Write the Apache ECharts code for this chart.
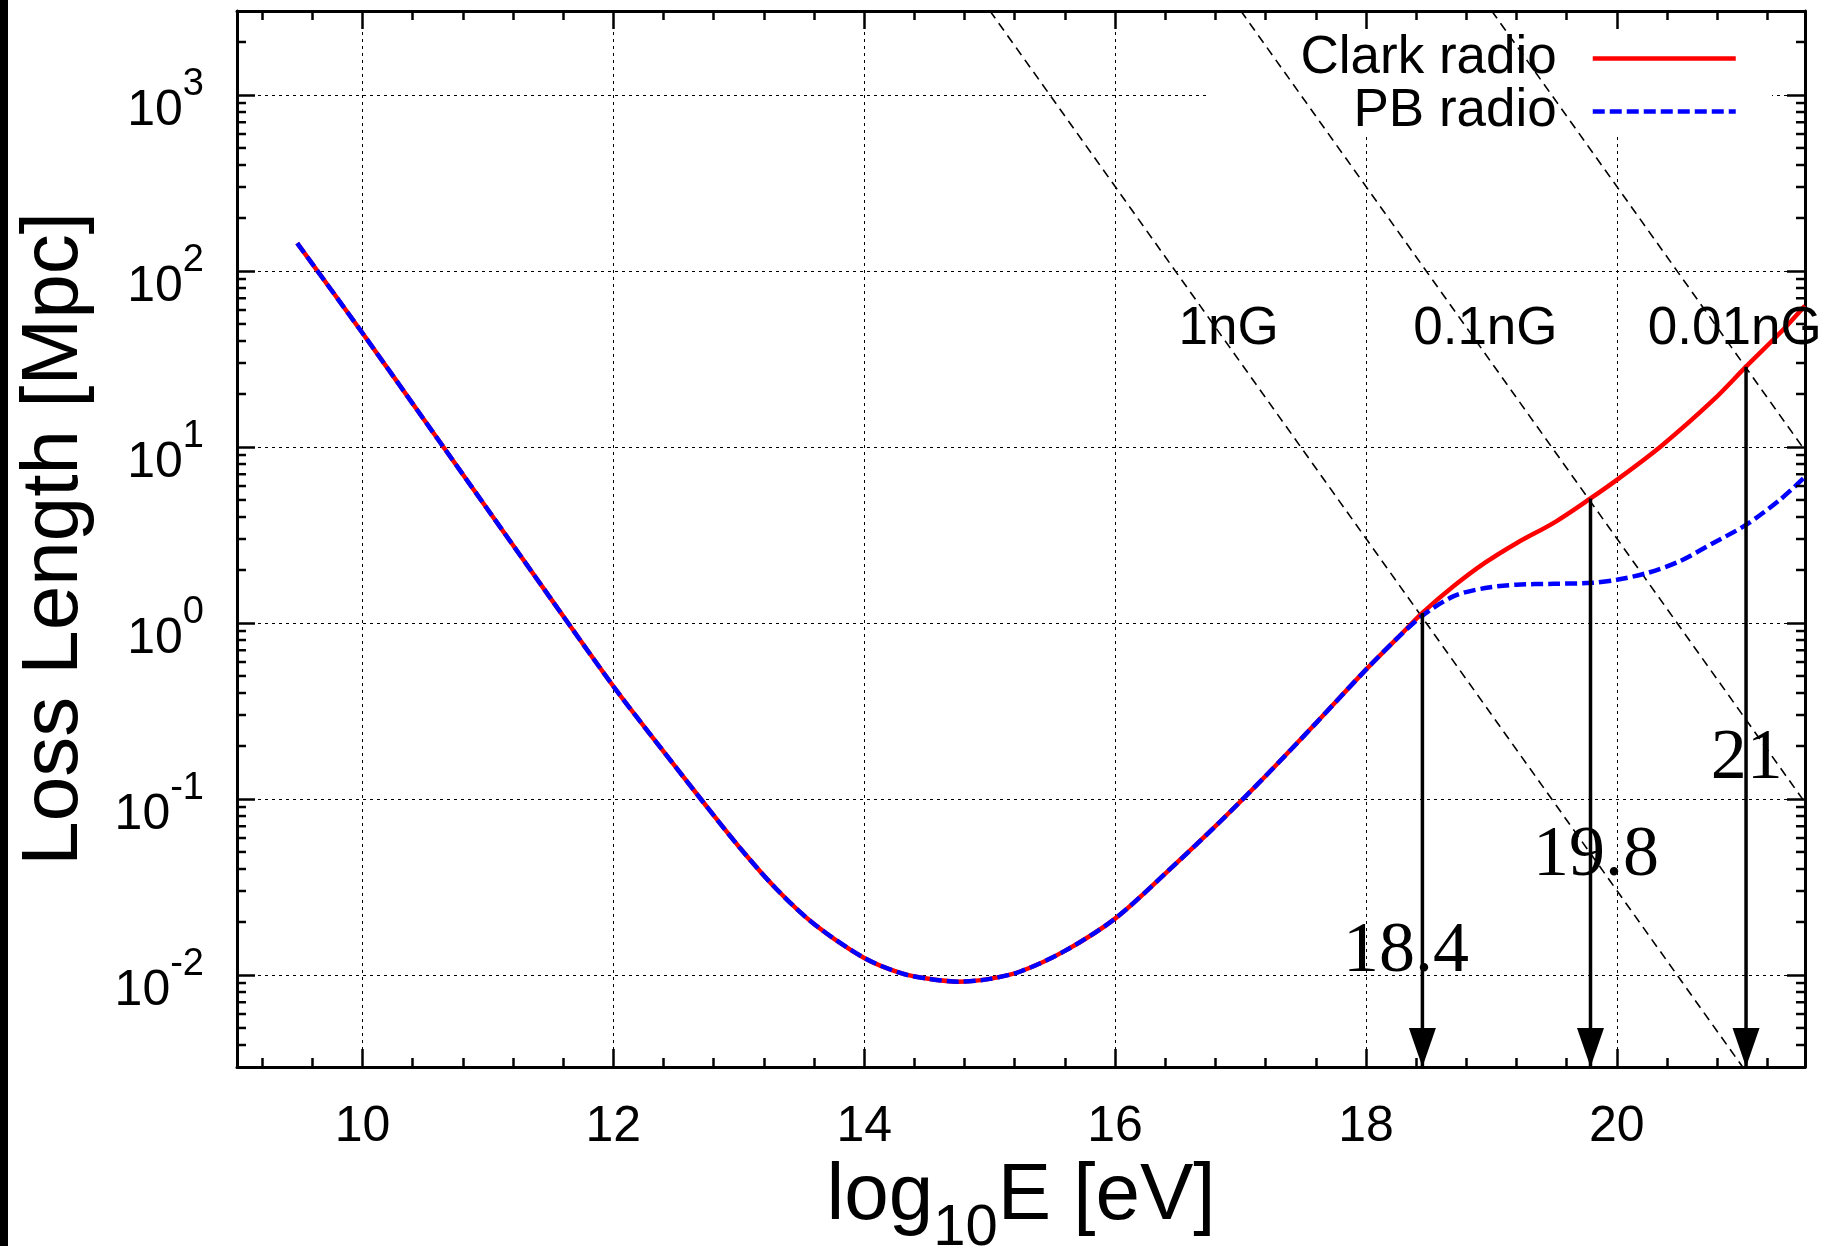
<!DOCTYPE html>
<html><head><meta charset="utf-8">
<script src="https://cdn.jsdelivr.net/npm/echarts@6/dist/echarts.min.js"></script>
<style>html,body{margin:0;padding:0;background:#fff}#c{width:1827px;height:1246px}</style>
</head><body><div id="c"></div>
<script>
const SANS = "'Liberation Sans', Arial, Helvetica, sans-serif";
const SERIF = "'Liberation Serif', 'Times New Roman', serif";
const X_MIN = 9, X_MAX = 21.5, Y_MIN = 0.003, Y_MAX = 3000;

// tick values
const xMajorTicks = [10, 12, 14, 16, 18, 20];
const xMinorTicks = [];
for (let k = 23; k <= 53; k++) xMinorTicks.push(+(k * 0.4).toFixed(1));
const yMinorTicks = [];
for (let e = -3; e <= 3; e++) for (let m = 2; m <= 9; m++) {
  const v = m * Math.pow(10, e);
  if (v > Y_MIN && v < Y_MAX) yMinorTicks.push(v);
}

// common part of both curves (log10 E [eV], loss length [Mpc])
const commonE = [9.48, 10.0, 10.5, 11.0, 11.5, 12.0, 12.35, 12.7, 13.0, 13.3, 13.6, 14.0, 14.3, 14.5, 14.75, 15.0, 15.25, 15.6, 16.0, 16.4, 16.8, 17.2, 17.6, 18.0, 18.25];
const commonL = [144, 44.4, 14.0, 4.40, 1.38, 0.437, 0.207, 0.0993, 0.0537, 0.0308, 0.0195, 0.0125, 0.0102, 0.00955, 0.00916, 0.0095, 0.0105, 0.0137, 0.0209, 0.0377, 0.070, 0.135, 0.269, 0.543, 0.82];
// Clark radio branch
const clarkE = [18.45, 18.7, 18.95, 19.2, 19.5, 19.79, 20.0, 20.35, 20.77, 21.03, 21.3, 21.5];
const clarkL = [1.14, 1.62, 2.2, 2.84, 3.72, 5.10, 6.5, 10.07, 18.5, 28.6, 44.4, 63.5];
// PB radio branch
const pbE = [18.45, 18.7, 18.95, 19.2, 19.5, 19.8, 20.0, 20.25, 20.5, 20.77, 21.03, 21.3, 21.5];
const pbL = [1.10, 1.42, 1.58, 1.65, 1.67, 1.69, 1.76, 1.93, 2.24, 2.85, 3.61, 5.01, 6.76];

// magnetic-field lines (end points)
const fieldNames = ['1nG', '0.1nG', '0.01nG'];
const fieldLineE = [[15.003, 21.003], [17.003, 21.5], [19.003, 21.5]];
const fieldLineL = [[3000, 0.003], [3000, 0.0955], [3000, 9.55]];
const fieldLabelE = [16.905, 18.952, 20.94];
const fieldLabelL = [46.4, 46.4, 46.4];

// arrows
const arrowLabels = ['18.4', '19.8', '21'];
const arrowE = [18.45, 19.79, 21.03];
const arrowTopL = [1.14, 5.1, 28.6];
const arrowLabelE = [18.32, 19.833, 21.035];
const arrowLabelL = [0.01342, 0.0471, 0.1694];

const pairs = (xs, ys) => xs.map((x, i) => [x, ys[i]]);
const clarkData = pairs(commonE, commonL).concat(pairs(clarkE, clarkL));
const pbData = pairs(commonE, commonL).concat(pairs(pbE, pbL));

const gridSplit = {show: true, lineStyle: {color: '#000', width: 1, type: [3, 4]}};
const axLine = {show: true, onZero: false, lineStyle: {color: '#000', width: 3}};
function xAx(pos, major) {
  return {
    type: 'value', min: X_MIN, max: X_MAX, position: pos,
    axisLine: major ? axLine : {show: false},
    axisTick: {show: true, inside: true, length: major ? 18 : 9, lineStyle: {color: '#000', width: 2.5},
      customValues: major ? xMajorTicks : xMinorTicks},
    axisLabel: {show: false},
    splitLine: {show: false}
  };
}
const xAxes = [xAx('bottom', true), xAx('top', true), xAx('bottom', false), xAx('top', false)];
xAxes[0].axisLabel = {show: true, customValues: xMajorTicks, fontSize: 50, color: '#000', margin: 35, fontFamily: SANS};
xAxes[0].splitLine = gridSplit;
xAxes[0].name = '{m|log}{s|10}{m|E [eV]}';
xAxes[0].nameLocation = 'middle';
xAxes[0].nameGap = 88;
xAxes[0].nameTextStyle = {color: '#000', rich: {
  m: {fontSize: 80, lineHeight: 80, verticalAlign: 'top', fontFamily: SANS, color: '#000'},
  s: {fontSize: 58, lineHeight: 58, padding: [43, 0, 0, 0], verticalAlign: 'top', fontFamily: SANS, color: '#000'}
}};

function yLabel(v) {
  const lg = Math.log10(v);
  const e = Math.round(lg);
  if (Math.abs(lg - e) > 1e-6) return '';
  return '{b|10}{s|' + e + '}';
}
const yAxes = [
  {type: 'log', logBase: 10, min: Y_MIN, max: Y_MAX, position: 'left',
   axisLine: axLine,
   axisTick: {show: true, inside: true, length: 18, lineStyle: {color: '#000', width: 2.5}},
   axisLabel: {show: true, formatter: yLabel, margin: 33, padding: [12, 0, 0, 0], rich: {
     b: {fontSize: 50, lineHeight: 70, verticalAlign: 'bottom', fontFamily: SANS, color: '#000'},
     s: {fontSize: 38, lineHeight: 22, verticalAlign: 'top', fontFamily: SANS, color: '#000'}
   }},
   splitLine: gridSplit,
   minorTick: {show: false},
   name: 'Loss Length [Mpc]', nameLocation: 'middle', nameGap: 142,
   nameTextStyle: {fontSize: 80, fontFamily: SANS, color: '#000'}},
  {type: 'log', logBase: 10, min: Y_MIN, max: Y_MAX, position: 'right',
   axisLine: axLine,
   axisTick: {show: true, inside: true, length: 18, lineStyle: {color: '#000', width: 2.5}},
   axisLabel: {show: false}, splitLine: {show: false}}
];

const series = [];
fieldNames.forEach((n, i) => {
  series.push({type: 'line', name: 'field ' + n, xAxisIndex: 0, yAxisIndex: 0, symbol: 'none', silent: true,
    data: pairs(fieldLineE[i], fieldLineL[i]),
    lineStyle: {color: '#000', width: 1.6, type: [9, 6]}, z: 2});
});
series.push({type: 'line', name: 'Clark radio', xAxisIndex: 0, yAxisIndex: 0, data: clarkData, symbol: 'none',
  smooth: 0.3, color: '#ff0000', lineStyle: {color: '#ff0000', width: 4.5}, z: 3});
series.push({type: 'line', name: 'PB radio', xAxisIndex: 0, yAxisIndex: 0, data: pbData, symbol: 'none',
  smooth: 0.3, color: '#0000ff', lineStyle: {color: '#0000ff', width: 4.5, type: [12, 5]}, z: 3});
arrowE.forEach((x, i) => {
  series.push({type: 'line', name: 'arrow ' + arrowLabels[i], xAxisIndex: 0, yAxisIndex: 0, showSymbol: true, silent: true,
    symbol: 'none', clip: false,
    data: [{value: [x, arrowTopL[i]], symbol: 'none'},
           {value: [x, Y_MIN], symbol: 'triangle', symbolSize: [27, 39], symbolRotate: 180, symbolOffset: [0, '-50%'],
            itemStyle: {color: '#000'}}],
    lineStyle: {color: '#000', width: 3.5}, itemStyle: {color: '#000'}, z: 4});
});
series.push({type: 'custom', name: 'yminor', xAxisIndex: 0, yAxisIndex: 0, silent: true, clip: false, z: 5,
  data: yMinorTicks.map(v => [X_MIN, v]),
  renderItem: (params, api) => {
    const v = api.value(1);
    const l = api.coord([X_MIN, v]);
    const r = api.coord([X_MAX, v]);
    return {type: 'group', children: [
      {type: 'line', shape: {x1: l[0], y1: l[1], x2: l[0] + 9, y2: l[1]}, style: {stroke: '#000', lineWidth: 2.5}},
      {type: 'line', shape: {x1: r[0] - 9, y1: r[1], x2: r[0], y2: r[1]}, style: {stroke: '#000', lineWidth: 2.5}}
    ]};
  }});
const labelItem = {color: 'rgba(0,0,0,0)', opacity: 1};
series.push({type: 'scatter', name: 'fieldlabels', xAxisIndex: 0, yAxisIndex: 0, silent: true, symbolSize: 1,
  itemStyle: labelItem, z: 6,
  data: fieldNames.map((n, i) => ({name: n, value: [fieldLabelE[i], fieldLabelL[i]]})),
  label: {show: true, position: 'inside', formatter: '{b}', fontSize: 53, fontFamily: SANS, color: '#000',
    opacity: 1, textBorderWidth: 0}});
series.push({type: 'scatter', name: 'arrowlabels', xAxisIndex: 0, yAxisIndex: 0, silent: true, symbolSize: 1,
  itemStyle: labelItem, z: 6,
  data: arrowLabels.map((n, i) => ({name: n, value: [arrowLabelE[i], arrowLabelL[i]]})),
  label: {show: true, position: 'inside', formatter: '{b}', fontSize: 72, fontFamily: SERIF, color: '#000',
    opacity: 1, textBorderWidth: 0}});

const chart = echarts.init(document.getElementById('c'), null, {renderer: 'canvas'});
chart.setOption({
  animation: false,
  backgroundColor: '#fff',
  grid: {left: 237, top: 11, right: 22, bottom: 179, containLabel: false, outerBoundsMode: 'none'},
  xAxis: xAxes,
  yAxis: yAxes,
  legend: {data: ['Clark radio', 'PB radio'], orient: 'vertical', align: 'right', right: 84, top: 27,
    itemWidth: 143, itemHeight: 14, itemGap: 0, selectedMode: false,
    itemStyle: {opacity: 0}, lineStyle: {width: 4.5},
    textStyle: {fontSize: 53, lineHeight: 52, fontFamily: SANS, color: '#000', padding: [0, 31, 0, 0]}},
  graphic: [
    {type: 'rect', z: 1, silent: true, shape: {x: 1208, y: 30, width: 564, height: 105}, style: {fill: '#fff'}},
    {type: 'rect', z: 10, silent: true, shape: {x: 0, y: 0, width: 8, height: 1246}, style: {fill: '#000'}}
  ],
  series: series
});
</script></body></html>
